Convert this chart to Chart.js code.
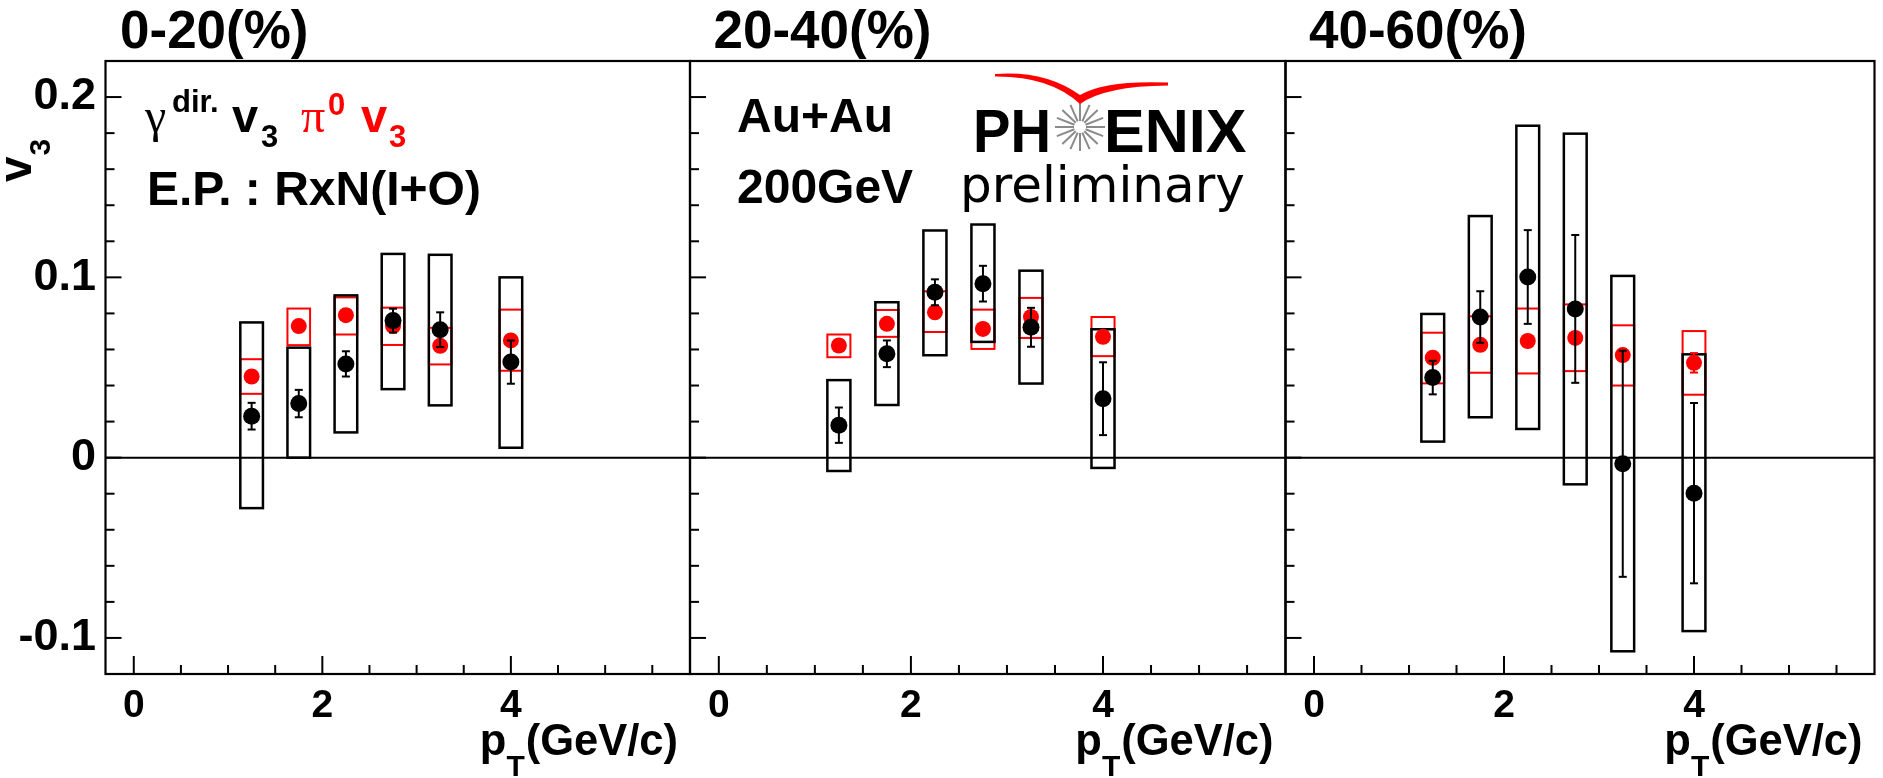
<!DOCTYPE html>
<html>
<head>
<meta charset="utf-8">
<script src="https://cdn.jsdelivr.net/npm/chart.js@4.4.0/dist/chart.umd.min.js"></script>
<style>
html,body{margin:0;padding:0;background:#ffffff;width:1883px;height:778px;overflow:hidden;}
canvas{position:absolute;left:0;top:0;}
</style>
</head>
<body>
<canvas id="p0" width="1883" height="778"></canvas>
<canvas id="p1" width="1883" height="778"></canvas>
<canvas id="p2" width="1883" height="778"></canvas>
<script>
// ---------------- data ----------------
const PT_BINS = [1.25, 1.75, 2.25, 2.75, 3.25, 4.0];
const CENTRALITY_LABELS = ['0-20(%)', '20-40(%)', '40-60(%)'];
const X_TICKS = [0, 2, 4];
const X_TICK_LABELS = ['0', '2', '4'];
const Y_TICKS = [-0.1, 0, 0.1, 0.2];
const Y_TICK_LABELS = ['-0.1', '0', '0.1', '0.2'];

// 0-20 %
const gammaV3_0020      = [0.023, 0.030, 0.052, 0.076, 0.071, 0.053];
const gammaStat_0020    = [0.0074, 0.0076, 0.0070, 0.0066, 0.0096, 0.0120];
const gammaSysLow_0020  = [-0.028, 0.000, 0.014, 0.038, 0.029, 0.0055];
const gammaSysHigh_0020 = [0.075, 0.061, 0.090, 0.113, 0.1125, 0.100];
const pi0V3_0020        = [0.045, 0.073, 0.079, 0.073, 0.062, 0.065];
const pi0Stat_0020      = [0.002, 0.002, 0.002, 0.002, 0.002, 0.003];
const pi0SysLow_0020    = [0.0354, 0.0624, 0.0683, 0.0625, 0.0517, 0.0482];
const pi0SysHigh_0020   = [0.0546, 0.0827, 0.0889, 0.0832, 0.0720, 0.0821];

// 20-40 %
const gammaV3_2040      = [0.018, 0.0576, 0.0917, 0.0965, 0.0723, 0.0327];
const gammaStat_2040    = [0.0098, 0.0074, 0.0072, 0.0099, 0.0108, 0.0202];
const gammaSysLow_2040  = [-0.0074, 0.0292, 0.0568, 0.0642, 0.0411, -0.0057];
const gammaSysHigh_2040 = [0.043, 0.0862, 0.126, 0.1293, 0.1037, 0.0712];
const pi0V3_2040        = [0.0622, 0.0742, 0.0806, 0.0714, 0.078, 0.067];
const pi0Stat_2040      = [0.002, 0.002, 0.002, 0.002, 0.002, 0.003];
const pi0SysLow_2040    = [0.0557, 0.067, 0.0697, 0.0603, 0.0664, 0.0563];
const pi0SysHigh_2040   = [0.0683, 0.0819, 0.0923, 0.0821, 0.0886, 0.078];

// 40-60 %
const gammaV3_4060      = [0.0444, 0.078, 0.1002, 0.0825, -0.0034, -0.0197];
const gammaStat_4060    = [0.0093, 0.0143, 0.026, 0.041, 0.0627, 0.050];
const gammaSysLow_4060  = [0.0089, 0.0224, 0.0159, -0.0148, -0.1074, -0.0962];
const gammaSysHigh_4060 = [0.0797, 0.134, 0.1841, 0.1797, 0.1008, 0.0573];
const pi0V3_4060        = [0.0554, 0.0626, 0.0647, 0.0664, 0.0569, 0.0526];
const pi0Stat_4060      = [0.003, 0.003, 0.003, 0.003, 0.003, 0.0054];
const pi0SysLow_4060    = [0.0412, 0.0471, 0.0467, 0.048, 0.040, 0.0349];
const pi0SysHigh_4060   = [0.0693, 0.0784, 0.0827, 0.085, 0.0734, 0.0702];

const PANELS = [
  {title: CENTRALITY_LABELS[0], g: gammaV3_0020, gs: gammaStat_0020, gl: gammaSysLow_0020, gh: gammaSysHigh_0020,
   p: pi0V3_0020, ps: pi0Stat_0020, pl: pi0SysLow_0020, ph: pi0SysHigh_0020},
  {title: CENTRALITY_LABELS[1], g: gammaV3_2040, gs: gammaStat_2040, gl: gammaSysLow_2040, gh: gammaSysHigh_2040,
   p: pi0V3_2040, ps: pi0Stat_2040, pl: pi0SysLow_2040, ph: pi0SysHigh_2040},
  {title: CENTRALITY_LABELS[2], g: gammaV3_4060, gs: gammaStat_4060, gl: gammaSysLow_4060, gh: gammaSysHigh_4060,
   p: pi0V3_4060, ps: pi0Stat_4060, pl: pi0SysLow_4060, ph: pi0SysHigh_4060}
];

// ---------------- layout / style ----------------
const W = 1883, H = 778;
const FRAME_TOP = 61, FRAME_BOTTOM = 674;
const FRAME_LEFT = [105.5, 690, 1285.5];
const FRAME_RIGHT = [690, 1285.5, 1881];
const X_MIN = -0.3, X_MAX = 5.9, Y_MIN = -0.12, Y_MAX = 0.22;
const BOX_HALF = 0.12;
const SANS = '"Liberation Sans", Arial, Helvetica, sans-serif';
const SERIF = '"Liberation Serif", "Times New Roman", serif';
const RED = '#ff0000';

function txt(ctx, s, x, y, font, color, align, maxW) {
  ctx.font = font; ctx.fillStyle = color || '#000';
  ctx.textAlign = align || 'left'; ctx.textBaseline = 'alphabetic';
  if (maxW) ctx.fillText(s, x, y, maxW); else ctx.fillText(s, x, y);
}

function line(ctx, x1, y1, x2, y2) {
  ctx.beginPath(); ctx.moveTo(x1, y1); ctx.lineTo(x2, y2); ctx.stroke();
}

function drawBox(ctx, xs, ys, xc, lo, hi, color, lw) {
  const l = xs.getPixelForValue(xc - BOX_HALF), r = xs.getPixelForValue(xc + BOX_HALF);
  const t = ys.getPixelForValue(hi), b = ys.getPixelForValue(lo);
  ctx.strokeStyle = color; ctx.lineWidth = lw;
  ctx.strokeRect(l, t, r - l, b - t);
}

function drawErr(ctx, xs, ys, xc, v, e, color) {
  const px = xs.getPixelForValue(xc);
  const t = ys.getPixelForValue(v + e), b = ys.getPixelForValue(v - e);
  ctx.strokeStyle = color; ctx.lineWidth = 2;
  line(ctx, px, t, px, b);
  line(ctx, px - 4, t, px + 4, t);
  line(ctx, px - 4, b, px + 4, b);
}

const idxPlugin = { id: 'panelIndex', beforeInit(chart) { chart.$idx = parseInt(chart.canvas.id.slice(1), 10); } };

const rootPlugin = {
  id: 'rootStyle',
  beforeDatasetsDraw(chart) {
    const ctx = chart.ctx, a = chart.chartArea, xs = chart.scales.x, ys = chart.scales.y;
    const P = PANELS[chart.$idx];
    ctx.save();
    ctx.strokeStyle = '#000'; ctx.lineWidth = 2;
    const y0 = ys.getPixelForValue(0);
    line(ctx, a.left, y0, a.right, y0);
    PT_BINS.forEach((pt, i) => drawBox(ctx, xs, ys, pt, P.pl[i], P.ph[i], RED, 2));
    PT_BINS.forEach((pt, i) => drawBox(ctx, xs, ys, pt, P.gl[i], P.gh[i], '#000', 2.5));
    ctx.restore();
  },
  afterDatasetDraw(chart, args) {
    if (args.index !== 1) return;
    const ctx = chart.ctx, xs = chart.scales.x, ys = chart.scales.y;
    const P = PANELS[chart.$idx];
    ctx.save();
    PT_BINS.forEach((pt, i) => drawErr(ctx, xs, ys, pt, P.p[i], P.ps[i], RED));
    PT_BINS.forEach((pt, i) => drawErr(ctx, xs, ys, pt, P.g[i], P.gs[i], '#000'));
    ctx.restore();
  },
  afterDraw(chart) {
    const ctx = chart.ctx, a = chart.chartArea, xs = chart.scales.x, ys = chart.scales.y;
    const idx = chart.$idx;
    ctx.save();
    ctx.strokeStyle = '#000'; ctx.lineWidth = 2.2;
    ctx.strokeRect(a.left, a.top, a.right - a.left, a.bottom - a.top);
    ctx.lineWidth = 2;
    for (let k = -5; k <= 10; k++) {
      const v = k * 0.02;
      const major = (k % 5 === 0);
      const py = ys.getPixelForValue(v);
      line(ctx, a.left, py, a.left + (major ? 16 : 9), py);
    }
    for (let k = 0; k <= 11; k++) {
      const v = k * 0.5;
      const major = X_TICKS.includes(v);
      const px = xs.getPixelForValue(v);
      line(ctx, px, a.bottom, px, a.bottom - (major ? 18 : 9));
    }
    const titleX = [120, 713.5, 1309][idx];
    txt(ctx, PANELS[idx].title, titleX, 48, 'bold 53px ' + SANS);
    const xr = a.right - 12;
    const fT = 'bold 43.5px ' + SANS, fS = 'bold 30px ' + SANS;
    ctx.font = fT;
    const wRest = ctx.measureText('(GeV/c)').width;
    txt(ctx, '(GeV/c)', xr, 755, fT, '#000', 'right');
    ctx.font = fS;
    const wT = ctx.measureText('T').width;
    txt(ctx, 'T', xr - wRest - wT - 1, 776, fS);
    txt(ctx, 'p', xr - wRest - wT - 1, 755, fT, '#000', 'right');

    if (idx === 0) {
      ctx.save();
      ctx.translate(31, 182);
      ctx.rotate(-Math.PI / 2);
      txt(ctx, 'v', 0, 0, 'bold 46px ' + SANS);
      ctx.font = 'bold 46px ' + SANS;
      const wv = ctx.measureText('v').width;
      txt(ctx, '3', wv + 1, 19, 'bold 30px ' + SANS);
      ctx.restore();
      txt(ctx, 'γ', 145, 132, '48px ' + SERIF);
      txt(ctx, 'dir.', 172, 112, 'bold 31px ' + SANS);
      txt(ctx, 'v', 232, 132, 'bold 47px ' + SANS);
      txt(ctx, '3', 261, 147, 'bold 31px ' + SANS);
      txt(ctx, 'π', 301, 132, '48px ' + SERIF, RED);
      txt(ctx, '0', 328, 115, 'bold 31px ' + SANS, RED);
      txt(ctx, 'v', 361, 132, 'bold 47px ' + SANS, RED);
      txt(ctx, '3', 389, 147, 'bold 31px ' + SANS, RED);
      txt(ctx, 'E.P. : RxN(I+O)', 147, 205, 'bold 48px ' + SANS);
    }
    if (idx === 1) {
      txt(ctx, 'Au+Au', 737, 132, 'bold 48px ' + SANS);
      txt(ctx, '200GeV', 737, 203, 'bold 48px ' + SANS);
      txt(ctx, 'PH', 973, 152, 'bold 61px ' + SANS, '#000', 'left', 78);
      txt(ctx, 'ENIX', 1104, 152, 'bold 61px ' + SANS, '#000', 'left', 148);
      const cx = 1080, cy = 127;
      ctx.strokeStyle = '#8a8a8a'; ctx.lineWidth = 2;
      for (let k = 0; k < 16; k++) {
        const an = k * Math.PI / 8;
        line(ctx, cx + 6 * Math.cos(an), cy + 6 * Math.sin(an), cx + 25 * Math.cos(an), cy + 24 * Math.sin(an));
      }
      ctx.fillStyle = RED;
      ctx.beginPath();
      ctx.moveTo(995, 74);
      ctx.quadraticCurveTo(1045, 70, 1080, 95);
      ctx.quadraticCurveTo(1105, 80, 1168, 82.5);
      ctx.lineTo(1168, 85.5);
      ctx.quadraticCurveTo(1105, 86, 1080, 104);
      ctx.quadraticCurveTo(1050, 76, 995, 76.5);
      ctx.closePath();
      ctx.fill();
      txt(ctx, 'preliminary', 960, 202, '50px "DejaVu Sans", sans-serif', '#000', 'left', 292);
    }
    ctx.restore();
  }
};

function makeChart(idx) {
  const P = PANELS[idx];
  return new Chart(document.getElementById('p' + idx), {
    type: 'scatter',
    data: {
      datasets: [
        { label: 'γ dir. v3', data: PT_BINS.map((x, i) => ({x: x, y: P.g[i]})),
          pointRadius: 8.5, pointHoverRadius: 8.5, pointBackgroundColor: '#000', pointBorderWidth: 0, showLine: false },
        { label: 'π0 v3', data: PT_BINS.map((x, i) => ({x: x, y: P.p[i]})),
          pointRadius: 8, pointHoverRadius: 8, pointBackgroundColor: RED, pointBorderWidth: 0, showLine: false }
      ]
    },
    options: {
      responsive: false, animation: false, devicePixelRatio: 1,
      layout: { padding: { left: idx === 0 ? 0 : FRAME_LEFT[idx], right: W - FRAME_RIGHT[idx], top: FRAME_TOP, bottom: 0 } },
      plugins: { legend: { display: false }, tooltip: { enabled: false } },
      scales: {
        x: {
          type: 'linear', min: X_MIN, max: X_MAX,
          afterBuildTicks: s => { s.ticks = X_TICKS.map(v => ({value: v})); },
          afterFit: s => { s.height = H - FRAME_BOTTOM; },
          grid: { display: false, drawTicks: false }, border: { display: false },
          ticks: { font: { family: SANS, size: 39, weight: 'bold' }, color: '#000', padding: 8.6,
                   maxRotation: 0, autoSkip: false, callback: (v, i) => X_TICK_LABELS[i] }
        },
        y: {
          type: 'linear', min: Y_MIN, max: Y_MAX, display: idx === 0,
          afterBuildTicks: s => { s.ticks = Y_TICKS.map(v => ({value: v})); },
          afterFit: s => { s.width = idx === 0 ? FRAME_LEFT[0] : 0; },
          grid: { display: false, drawTicks: false }, border: { display: false },
          ticks: { font: { family: SANS, size: 45, weight: 'bold' }, color: '#000', padding: 9.5,
                   autoSkip: false, callback: (v, i) => Y_TICK_LABELS[i] }
        }
      }
    },
    plugins: [idxPlugin, rootPlugin]
  });
}

makeChart(0); makeChart(1); makeChart(2);
</script>
</body>
</html>
